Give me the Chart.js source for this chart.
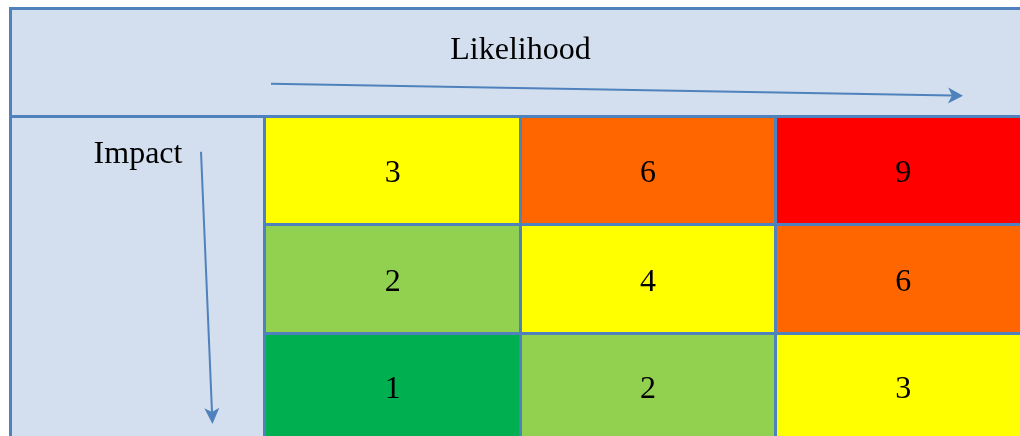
<!DOCTYPE html>
<html>
<head>
<meta charset="utf-8">
<script src="https://cdn.jsdelivr.net/npm/chart.js@4.4.1/dist/chart.umd.min.js"></script>
<style>
  html, body { margin: 0; padding: 0; background: #ffffff; overflow: hidden; width: 1020px; height: 436px; }
  #wrap { position: absolute; left: 0; top: 0; width: 1031px; height: 442px; }
</style>
</head>
<body>
<div id="wrap"><canvas id="c" width="1031" height="442"></canvas></div>
<script>
// ---- data ----
const likelihoodLevels = ['1', '2', '3'];        // columns, left to right
const impactLevels = ['1', '2', '3'];            // rows, bottom to top
const scoresImpact1 = [1, 2, 3];                 // bottom row
const scoresImpact2 = [2, 4, 6];                 // middle row
const scoresImpact3 = [3, 6, 9];                 // top row
const cellUnit = [1, 1, 1];                      // each cell is one unit tall
const xTitle = 'Likelihood';
const yTitle = 'Impact';

// ---- styles ----
const scoreColors = { 1: '#00B050', 2: '#92D050', 3: '#FFFF00', 4: '#FFFF00', 6: '#FF6600', 9: '#FF0000' };
const lineBlue = '#4F81BD';
const bandFill = '#D3DFEE';
const textFont = '32px "Liberation Serif", "DejaVu Serif", serif';

const rows = [scoresImpact1, scoresImpact2, scoresImpact3];
const datasets = rows.map((scores, i) => ({
  label: 'Impact ' + impactLevels[i],
  data: cellUnit.slice(),
  scores: scores,
  backgroundColor: scores.map(s => scoreColors[s]),
  borderWidth: 0,
  barPercentage: 1,
  categoryPercentage: 1
}));

function drawArrow(ctx, x0, y0, x1, y1, headLen, halfW, notch) {
  const dx = x1 - x0, dy = y1 - y0;
  const len = Math.hypot(dx, dy);
  const ux = dx / len, uy = dy / len;
  const px = -uy, py = ux;
  ctx.save();
  ctx.strokeStyle = lineBlue;
  ctx.fillStyle = lineBlue;
  ctx.lineWidth = 2;
  ctx.beginPath();
  ctx.moveTo(x0, y0);
  ctx.lineTo(x1 - ux * (headLen - notch), y1 - uy * (headLen - notch));
  ctx.stroke();
  const bx = x1 - ux * headLen, by = y1 - uy * headLen;
  ctx.beginPath();
  ctx.moveTo(x1, y1);
  ctx.lineTo(bx + px * halfW, by + py * halfW);
  ctx.lineTo(x1 - ux * (headLen - notch), y1 - uy * (headLen - notch));
  ctx.lineTo(bx - px * halfW, by - py * halfW);
  ctx.closePath();
  ctx.fill();
  ctx.restore();
}

const framePlugin = {
  id: 'frame',
  beforeDraw(chart) {
    const ctx = chart.ctx;
    const ca = chart.chartArea;
    const W = chart.width, H = chart.height;
    const left = 10.5, top = 8.5;
    ctx.save();
    ctx.fillStyle = bandFill;
    ctx.fillRect(left, top, W - left, ca.top - top);
    ctx.fillRect(left, ca.top, ca.left - left, H - ca.top);
    ctx.strokeStyle = lineBlue;
    ctx.lineWidth = 3;
    ctx.beginPath();
    ctx.moveTo(left - 1.5, top); ctx.lineTo(W, top);
    ctx.moveTo(left, top); ctx.lineTo(left, H);
    ctx.moveTo(left, 116.5); ctx.lineTo(ca.left, 116.5);
    ctx.stroke();
    ctx.restore();
  },
  afterDatasetsDraw(chart) {
    const ctx = chart.ctx;
    ctx.save();
    ctx.font = textFont;
    ctx.fillStyle = '#000000';
    ctx.textAlign = 'center';
    ctx.textBaseline = 'alphabetic';
    chart.data.datasets.forEach((ds, di) => {
      const meta = chart.getDatasetMeta(di);
      meta.data.forEach((bar, i) => {
        const p = bar.getCenterPoint();
        ctx.fillText(String(ds.scores[i]), p.x, p.y + 11.5);
      });
    });
    ctx.restore();
  },
  afterDraw(chart) {
    const ctx = chart.ctx;
    ctx.save();
    ctx.font = textFont;
    ctx.fillStyle = '#000000';
    ctx.textAlign = 'center';
    ctx.textBaseline = 'alphabetic';
    ctx.fillText(xTitle, 520.5, 59);
    ctx.fillText(yTitle, 138, 163.3);
    ctx.restore();
    drawArrow(ctx, 271, 83.7, 963, 95.7, 15, 8, 4);
    drawArrow(ctx, 201, 151.7, 212.5, 424, 16, 7.5, 4);
  }
};

new Chart(document.getElementById('c'), {
  type: 'bar',
  data: { labels: likelihoodLevels, datasets: datasets },
  options: {
    responsive: false,
    animation: false,
    events: [],
    layout: { padding: { left: 265, top: 116, right: 0, bottom: 0 } },
    plugins: { legend: { display: false }, tooltip: { enabled: false }, title: { display: false } },
    scales: {
      x: {
        type: 'category',
        stacked: true,
        offset: true,
        grid: { offset: true, color: lineBlue, lineWidth: 3, drawTicks: false, z: 1 },
        border: { display: false },
        ticks: { display: false }
      },
      y: {
        type: 'linear',
        stacked: true,
        min: 0,
        max: 3,
        grid: { color: lineBlue, lineWidth: 3, drawTicks: false, z: 1 },
        border: { display: false },
        ticks: { display: false, stepSize: 1 }
      }
    }
  },
  plugins: [framePlugin]
});
</script>
</body>
</html>
